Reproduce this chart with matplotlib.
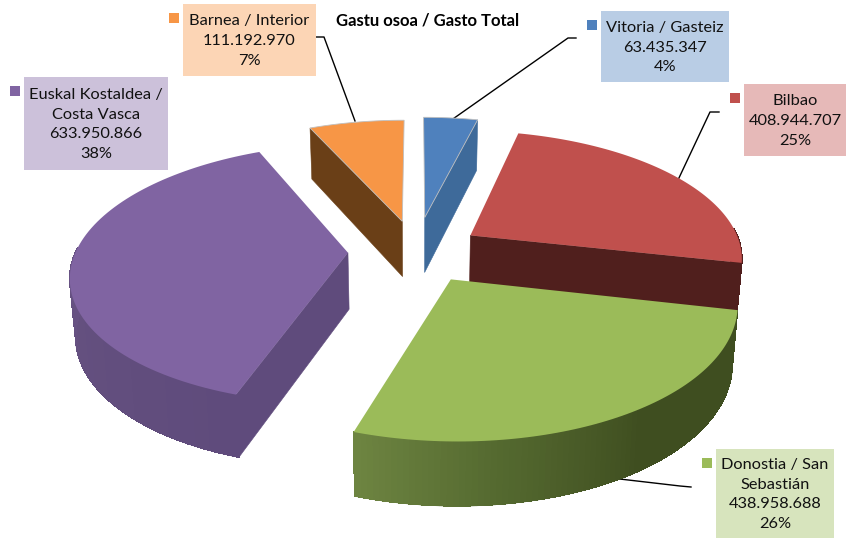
import numpy as np
import matplotlib
matplotlib.use('Agg')
import matplotlib.pyplot as plt
from matplotlib.patches import Polygon, Rectangle

plt.rcParams['font.family'] = ['Lato', 'DejaVu Sans']

# chart data, clockwise from 12 o'clock
names = ['Vitoria / Gasteiz', 'Bilbao', 'Donostia / San\nSebastián',
         'Euskal Kostaldea /\nCosta Vasca', 'Barnea / Interior']
values = [63435347, 408944707, 438958688, 633950866, 111192970]
title = 'Gastu osoa / Gasto Total'

# slice styling
top_colors = ['#4F81BD', '#C0504D', '#9BBB59', '#8064A2', '#F79646']
cut_colors = ['#3E6A9A', '#501F1D', '#3F4E20', '#5F4B7C', '#6A3F17']
box_colors = ['#B9CDE5', '#E6B9B8', '#D7E4BD', '#CCC1DA', '#FCD5B5']
top_edges = ['#BFBFBF', 'none', 'none', 'none', '#BFBFBF']
explode = [0.28, 0.24, 0.25, 0.25, 0.25]
# (fraction along the arc, colour) stops for the outer wall
wall_stops = [
    [(0, '#3E6A9A'), (1, '#3E6A9A')],
    [(0, '#501F1D'), (1, '#501F1D')],
    [(0, '#3F4E20'), (0.45, '#3F4E20'), (0.75, '#556A30'), (1, '#6D8441')],
    [(0, '#5F4B7C'), (0.35, '#64507F'), (1, '#725A90')],
    [(0, '#6A3F17'), (1, '#6A3F17')],
]

# label box x0, y0, x1, y1 in pixels
boxes = [(601, 11, 729, 82), (744, 84, 846, 156), (716, 449, 834, 538),
         (24, 77, 168, 170), (183, 4, 316, 76)]
# leader lines in pixels
leaders = [[(576, 38), (568, 38), (450, 121)],
           [(719, 112), (710, 112), (678, 180)],
           [(691, 487), (680, 486), (611, 478)],
           [],
           [(316, 37), (324, 37), (355, 121)]]

# projection of the pie plane
cx, cy = 416, 251
rx, ry = 272, 126
persp = 0.16
depth = 56.5
shrink = 0.983


def project(x, y, bottom=False):
    s = 1 / (1 + persp * y)
    px = rx * x * s
    py = -ry * y * s
    if bottom:
        return cx + px * shrink, cy + py + depth * s ** 0.6
    return cx + px, cy + py


def to_rgb(c):
    return np.array(matplotlib.colors.to_rgb(c))


fig = plt.figure(figsize=(8.49, 5.38), dpi=100)
ax = fig.add_axes([0, 0, 1, 1])
ax.set_xlim(0, 849)
ax.set_ylim(538, 0)
ax.axis('off')

total = sum(values)
edges = np.concatenate([[0], np.cumsum(values) / total * 360])

# painter's order, back slices first
for i in [4, 0, 1, 3, 2]:
    a0, a1 = edges[i], edges[i + 1]
    mid = np.radians((a0 + a1) / 2)
    ox, oy = explode[i] * np.sin(mid), explode[i] * np.cos(mid)
    ang = np.linspace(a0, a1, 90)
    xs = ox + np.sin(np.radians(ang))
    ys = oy + np.cos(np.radians(ang))

    # cut faces, only the ones turned to the viewer
    for a, normal in [(a0, a0 - 90), (a1, a1 + 90)]:
        if np.cos(np.radians(normal)) < -0.01:
            ex = ox + np.sin(np.radians(a))
            ey = oy + np.cos(np.radians(a))
            pts = [project(ox, oy), project(ex, ey),
                   project(ex, ey, True), project(ox, oy, True)]
            ax.add_patch(Polygon(pts, closed=True, facecolor=cut_colors[i],
                                 edgecolor=cut_colors[i], linewidth=0.4, zorder=i + 1))

    # outer wall as thin strips so the shading can change along it
    stops_t = [s[0] for s in wall_stops[i]]
    stops_c = np.array([to_rgb(s[1]) for s in wall_stops[i]])
    for j in range(len(ang) - 1):
        if np.cos(np.radians((ang[j] + ang[j + 1]) / 2)) > 0.05:
            continue
        t = j / (len(ang) - 2)
        col = [np.interp(t, stops_t, stops_c[:, k]) for k in range(3)]
        pts = [project(xs[j], ys[j]), project(xs[j + 1], ys[j + 1]),
               project(xs[j + 1], ys[j + 1], True), project(xs[j], ys[j], True)]
        ax.add_patch(Polygon(pts, closed=True, facecolor=col, edgecolor=col,
                             linewidth=0.5, antialiased=False, zorder=i + 1))
        # smooth line along the lower rim, strips are not antialiased
        bx, by = zip(project(xs[j], ys[j], True), project(xs[j + 1], ys[j + 1], True))
        ax.plot(bx, by, color=col, linewidth=0.9, solid_capstyle='round', zorder=i + 1)

    # top face
    top = [project(ox, oy)] + [project(x, y) for x, y in zip(xs, ys)]
    ax.add_patch(Polygon(top, closed=True, facecolor=top_colors[i],
                         edgecolor=top_edges[i], linewidth=0.6, zorder=i + 1))

# labels
for i in range(len(values)):
    x0, y0, x1, y1 = boxes[i]
    ax.add_patch(Rectangle((x0, y0), x1 - x0, y1 - y0, facecolor=box_colors[i],
                           edgecolor='none', zorder=10))
    ax.add_patch(Rectangle((x0 - 14, y0 + 9), 10, 10, facecolor=top_colors[i],
                           edgecolor='none', zorder=10))
    value_txt = f'{values[i]:,}'.replace(',', '.')
    pct = f'{values[i] / total * 100:.0f}%'
    ax.text((x0 + x1) / 2, (y0 + y1) / 2 + 1, f'{names[i]}\n{value_txt}\n{pct}',
            ha='center', va='center', fontsize=11.8, color='#111111',
            linespacing=1.545, zorder=11)
    if leaders[i]:
        lx, ly = zip(*leaders[i])
        ax.plot(lx, ly, color='black', linewidth=1, zorder=0.5)

ax.text(428, 20, title, ha='center', va='center', fontsize=12,
        fontweight='bold', color='black', zorder=11)

fig.savefig('out.png', dpi=100)
